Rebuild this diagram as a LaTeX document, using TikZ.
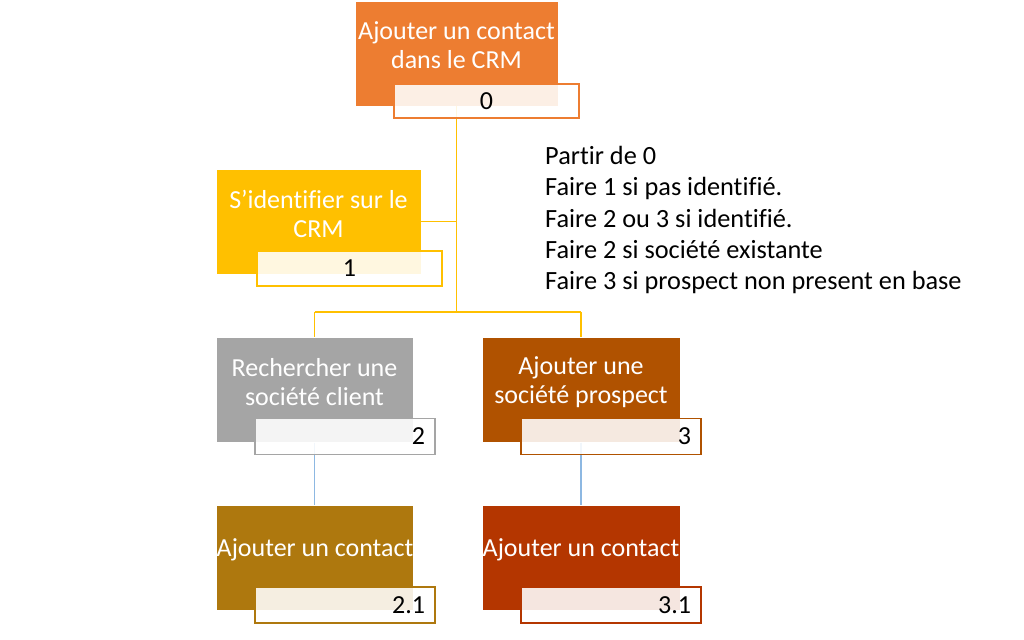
\documentclass[tikz,border=0pt]{standalone}
\usepackage{fontspec}
\setmainfont{Carlito}[Ligatures=NoCommon]
\definecolor{cOrange}{HTML}{ED7D31}
\definecolor{cYellow}{HTML}{FFC000}
\definecolor{cGray}{HTML}{A5A5A5}
\definecolor{cBrown}{HTML}{B05200}
\definecolor{cOchre}{HTML}{AE780E}
\definecolor{cRust}{HTML}{B43600}
\definecolor{cBlue}{HTML}{8DB8E2}
\tikzset{
  box/.style={rectangle, minimum width=#1, minimum height=105pt, inner sep=0pt, draw=white, line width=0.6pt},
  lbl/.style={rectangle, minimum height=36pt, minimum width=180pt, inner sep=0pt, fill=white, fill opacity=0.88, text opacity=1, line width=1.2pt},
  btext/.style={text=white, font=\fontsize{26}{29.5}\selectfont, align=center},
  ntext/.style={text=black, font=\fontsize{26}{28}\selectfont},
  yel/.style={draw=cYellow, line width=1.3pt},
  blu/.style={draw=cBlue, line width=1.2pt}
}
\begin{document}
\begin{tikzpicture}[x=1pt,y=-1pt]
\useasboundingbox (0,0) rectangle (1024,639);
% boxes
\node[box=203pt, fill=cOrange] (b0) at (456.5,53.5) {};
\node[box=205pt, fill=cYellow] (b1) at (318.5,221.5) {};
\node[box=197pt, fill=cGray] (b2) at (314.5,390) {};
\node[box=198pt, fill=cBrown] (b3) at (581,390) {};
\node[box=197pt, fill=cOchre] (b21) at (314.5,557.5) {};
\node[box=198pt, fill=cRust] (b31) at (581,557.5) {};
% connectors
\coordinate (j) at (456.5,312);
\coordinate (c2) at (314.5,312);
\coordinate (c3) at (581,312);
\coordinate (j1) at (456.5,221.5);
\draw[yel] (b0.south) -- (j);
\draw[yel] (j1) -- (b1.east);
\draw[yel] (c2) -- (c3);
\draw[yel] (c2) -- (b2.north);
\draw[yel] (c3) -- (b3.north);
\draw[blu] (b2.south) -- (b21.north);
\draw[blu] (b3.south) -- (b31.north);
% box texts
\node[btext] (t0) at (456.5,45) {Ajouter un contact\\dans le CRM};
\node[btext] (t1) at (318.5,214) {S’identifier sur le\\CRM};
\node[btext] (t2) at (314.5,382) {Rechercher une\\société client};
\node[btext] (t3) at (581,382) {Ajouter une\\société prospect};
\node[btext] (t21) at (315,550) {Ajouter un contact};
\node[btext] (t31) at (581,550) {Ajouter un contact};
% labels
\node[lbl, draw=cOrange, minimum width=185pt, minimum height=34pt] (l0) at (486.5,101) {};
\node[ntext] at (l0) {0};
\node[lbl, draw=cYellow, minimum width=185pt, minimum height=35pt] (l1) at (349.5,268.5) {};
\node[ntext] at (l1) {1};
\node[lbl, draw=cGray] (l2) at (345,436.5) {};
\node[ntext, anchor=east] at ([xshift=-7pt]l2.east) {2};
\node[lbl, draw=cBrown] (l3) at (611,436.5) {};
\node[ntext, anchor=east] at ([xshift=-7pt]l3.east) {3};
\node[lbl, draw=cOchre] (l21) at (345,605) {};
\node[ntext, anchor=east] at ([xshift=-7pt]l21.east) {2.1};
\node[lbl, draw=cRust] (l31) at (611,605) {};
\node[ntext, anchor=east] at ([xshift=-7pt]l31.east) {3.1};
% side text
\node[anchor=north west, align=left, inner sep=0pt, font=\fontsize{26.3}{31.3}\selectfont] (notes) at (545,146)
{Partir de 0\\Faire 1 si pas identifié.\\Faire 2 ou 3 si identifié.\\Faire 2 si société existante\\Faire 3 si prospect non present en base};
\end{tikzpicture}
\end{document}
